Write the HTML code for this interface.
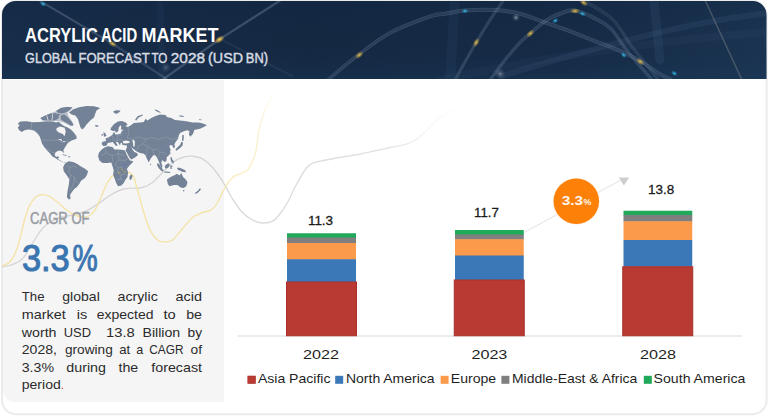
<!DOCTYPE html>
<html><head><meta charset="utf-8">
<style>
html,body{margin:0;padding:0;background:#fff;}
body{width:768px;height:416px;overflow:hidden;font-family:"Liberation Sans",sans-serif;}
svg{display:block;position:absolute;left:0;top:0;}
text{font-family:"Liberation Sans",sans-serif;}
</style></head><body>
<svg width="768" height="416" viewBox="0 0 768 416">
<defs>
<linearGradient id="hdr" x1="0" y1="0" x2="1" y2="0">
<stop offset="0" stop-color="#172d49"/><stop offset="0.4" stop-color="#152842"/><stop offset="0.75" stop-color="#162b46"/><stop offset="1" stop-color="#1b3451"/>
</linearGradient>
<linearGradient id="hdrv" x1="0" y1="0" x2="0" y2="1"><stop offset="0" stop-color="#0d2340" stop-opacity="0.25"/><stop offset="0.5" stop-color="#0d2340" stop-opacity="0"/><stop offset="1" stop-color="#1d4468" stop-opacity="0.22"/></linearGradient>
<radialGradient id="glg"><stop offset="0" stop-color="#ffe27a"/><stop offset="0.35" stop-color="#e8b93c" stop-opacity="0.7"/><stop offset="1" stop-color="#e8b93c" stop-opacity="0"/></radialGradient>
<radialGradient id="glc"><stop offset="0" stop-color="#7fe6ff"/><stop offset="0.35" stop-color="#25b5e8" stop-opacity="0.7"/><stop offset="1" stop-color="#25b5e8" stop-opacity="0"/></radialGradient>
<radialGradient id="glw"><stop offset="0" stop-color="#ffffff" stop-opacity="0.9"/><stop offset="0.4" stop-color="#c9d6e6" stop-opacity="0.4"/><stop offset="1" stop-color="#c9d6e6" stop-opacity="0"/></radialGradient>
<clipPath id="cardclip"><rect x="2" y="1" width="764.5" height="413" rx="14" ry="14"/></clipPath>
<clipPath id="hdrclip"><path d="M2 79V15A14 14 0 0 1 16 1H752.5A14 14 0 0 1 766.5 15V79Z"/></clipPath>
</defs>
<!-- card -->
<rect x="2" y="1" width="764.6" height="413.2" rx="14" ry="14" fill="#fff" stroke="#ebebeb" stroke-width="2"/>
<!-- left panel -->
<path d="M3 80H224V402H15A12 12 0 0 1 3 390Z" fill="#f5f5f5"/>
<!-- header -->
<g clip-path="url(#hdrclip)" id="header">
<rect x="0" y="0" width="768" height="79" fill="url(#hdr)"/>
<rect x="0" y="0" width="768" height="79" fill="url(#hdrv)"/>
<g fill="none" stroke-linecap="round">
<path d="M502 76 C560 58 680 22 768 13" stroke="#5f7fa3" stroke-opacity="0.13" stroke-width="6"/>
<path d="M440 80 C520 62 640 42 768 32" stroke="#5f7fa3" stroke-opacity="0.06" stroke-width="8"/>
<path d="M654 0 L660 60" stroke="#4a6a90" stroke-opacity="0.16" stroke-width="9"/>
<path d="M455 0 L450 80" stroke="#3b5f88" stroke-opacity="0.12" stroke-width="10"/>
<path d="M160 0 L162 80" stroke="#3b5f88" stroke-opacity="0.10" stroke-width="7"/>
<path d="M327.7 80.0C332.4 76.1 345.7 64.5 356.0 56.7C366.3 48.9 377.1 40.0 389.3 33.3C401.5 26.6 420.0 20.0 429.3 16.7C438.6 13.4 439.1 14.8 445.0 13.8C450.9 12.7 456.7 11.1 465.0 10.5C473.3 9.9 485.8 9.5 495.0 10.0C504.2 10.5 511.7 11.7 520.0 13.8C528.3 15.8 536.7 19.6 545.0 22.5C553.3 25.4 561.7 28.1 570.0 31.2C578.3 34.4 588.0 38.5 595.0 41.2C602.0 44.0 604.7 44.4 612.0 47.5C619.3 50.6 630.9 55.7 638.7 60.0C646.5 64.3 653.2 70.0 658.7 73.3C664.2 76.6 669.8 78.9 672.0 80.0" stroke="#9fb3cc" stroke-opacity="0.10" stroke-width="3.6"/>
<path d="M327.7 80.0C332.4 76.1 345.7 64.5 356.0 56.7C366.3 48.9 377.1 40.0 389.3 33.3C401.5 26.6 420.0 20.0 429.3 16.7C438.6 13.4 439.1 14.8 445.0 13.8C450.9 12.7 456.7 11.1 465.0 10.5C473.3 9.9 485.8 9.5 495.0 10.0C504.2 10.5 511.7 11.7 520.0 13.8C528.3 15.8 536.7 19.6 545.0 22.5C553.3 25.4 561.7 28.1 570.0 31.2C578.3 34.4 588.0 38.5 595.0 41.2C602.0 44.0 604.7 44.4 612.0 47.5C619.3 50.6 630.9 55.7 638.7 60.0C646.5 64.3 653.2 70.0 658.7 73.3C664.2 76.6 669.8 78.9 672.0 80.0" stroke="#9fb3cc" stroke-opacity="0.18" stroke-width="0.6"/>
<path d="M327.7 80.0C332.4 76.1 345.7 64.5 356.0 56.7C366.3 48.9 377.1 40.0 389.3 33.3C401.5 26.6 420.0 20.0 429.3 16.7C438.6 13.4 439.1 14.8 445.0 13.8C450.9 12.7 456.7 11.1 465.0 10.5C473.3 9.9 485.8 9.5 495.0 10.0C504.2 10.5 511.7 11.7 520.0 13.8C528.3 15.8 536.7 19.6 545.0 22.5C553.3 25.4 561.7 28.1 570.0 31.2C578.3 34.4 588.0 38.5 595.0 41.2C602.0 44.0 604.7 44.4 612.0 47.5C619.3 50.6 630.9 55.7 638.7 60.0C646.5 64.3 653.2 70.0 658.7 73.3C664.2 76.6 669.8 78.9 672.0 80.0" stroke="#9fb3cc" stroke-opacity="0.30" stroke-width="0.6" transform="translate(0,-1.6)"/>
<path d="M327.7 80.0C332.4 76.1 345.7 64.5 356.0 56.7C366.3 48.9 377.1 40.0 389.3 33.3C401.5 26.6 420.0 20.0 429.3 16.7C438.6 13.4 439.1 14.8 445.0 13.8C450.9 12.7 456.7 11.1 465.0 10.5C473.3 9.9 485.8 9.5 495.0 10.0C504.2 10.5 511.7 11.7 520.0 13.8C528.3 15.8 536.7 19.6 545.0 22.5C553.3 25.4 561.7 28.1 570.0 31.2C578.3 34.4 588.0 38.5 595.0 41.2C602.0 44.0 604.7 44.4 612.0 47.5C619.3 50.6 630.9 55.7 638.7 60.0C646.5 64.3 653.2 70.0 658.7 73.3C664.2 76.6 669.8 78.9 672.0 80.0" stroke="#9fb3cc" stroke-opacity="0.30" stroke-width="0.6" transform="translate(0,1.6)"/>
<path d="M490.0 80.0C492.5 76.7 500.0 66.2 505.0 60.0C510.0 53.8 515.8 46.9 520.0 42.5C524.2 38.1 525.8 37.3 530.0 33.8C534.2 30.2 540.0 24.6 545.0 21.2C550.0 17.9 555.0 15.5 560.0 13.8C565.0 12.0 568.7 9.5 575.0 10.5C581.3 11.5 591.8 16.8 598.0 20.0C604.2 23.2 607.5 25.3 612.0 30.0C616.5 34.7 620.3 42.0 625.0 48.0C629.7 54.0 635.5 60.7 640.0 66.0C644.5 71.3 650.0 77.7 652.0 80.0" stroke="#9fb3cc" stroke-opacity="0.10" stroke-width="3.6"/>
<path d="M490.0 80.0C492.5 76.7 500.0 66.2 505.0 60.0C510.0 53.8 515.8 46.9 520.0 42.5C524.2 38.1 525.8 37.3 530.0 33.8C534.2 30.2 540.0 24.6 545.0 21.2C550.0 17.9 555.0 15.5 560.0 13.8C565.0 12.0 568.7 9.5 575.0 10.5C581.3 11.5 591.8 16.8 598.0 20.0C604.2 23.2 607.5 25.3 612.0 30.0C616.5 34.7 620.3 42.0 625.0 48.0C629.7 54.0 635.5 60.7 640.0 66.0C644.5 71.3 650.0 77.7 652.0 80.0" stroke="#9fb3cc" stroke-opacity="0.18" stroke-width="0.6"/>
<path d="M490.0 80.0C492.5 76.7 500.0 66.2 505.0 60.0C510.0 53.8 515.8 46.9 520.0 42.5C524.2 38.1 525.8 37.3 530.0 33.8C534.2 30.2 540.0 24.6 545.0 21.2C550.0 17.9 555.0 15.5 560.0 13.8C565.0 12.0 568.7 9.5 575.0 10.5C581.3 11.5 591.8 16.8 598.0 20.0C604.2 23.2 607.5 25.3 612.0 30.0C616.5 34.7 620.3 42.0 625.0 48.0C629.7 54.0 635.5 60.7 640.0 66.0C644.5 71.3 650.0 77.7 652.0 80.0" stroke="#9fb3cc" stroke-opacity="0.30" stroke-width="0.6" transform="translate(0,-1.6)"/>
<path d="M490.0 80.0C492.5 76.7 500.0 66.2 505.0 60.0C510.0 53.8 515.8 46.9 520.0 42.5C524.2 38.1 525.8 37.3 530.0 33.8C534.2 30.2 540.0 24.6 545.0 21.2C550.0 17.9 555.0 15.5 560.0 13.8C565.0 12.0 568.7 9.5 575.0 10.5C581.3 11.5 591.8 16.8 598.0 20.0C604.2 23.2 607.5 25.3 612.0 30.0C616.5 34.7 620.3 42.0 625.0 48.0C629.7 54.0 635.5 60.7 640.0 66.0C644.5 71.3 650.0 77.7 652.0 80.0" stroke="#9fb3cc" stroke-opacity="0.30" stroke-width="0.6" transform="translate(0,1.6)"/>
<path d="M455.0 80.0C457.1 76.2 464.0 63.8 467.5 57.5C471.0 51.2 472.5 48.8 476.2 42.5C480.0 36.2 485.4 27.1 490.0 20.0C494.6 12.9 501.5 3.3 503.8 0.0" stroke="#9fb3cc" stroke-opacity="0.09" stroke-width="3.6"/>
<path d="M455.0 80.0C457.1 76.2 464.0 63.8 467.5 57.5C471.0 51.2 472.5 48.8 476.2 42.5C480.0 36.2 485.4 27.1 490.0 20.0C494.6 12.9 501.5 3.3 503.8 0.0" stroke="#9fb3cc" stroke-opacity="0.16" stroke-width="0.6"/>
<path d="M455.0 80.0C457.1 76.2 464.0 63.8 467.5 57.5C471.0 51.2 472.5 48.8 476.2 42.5C480.0 36.2 485.4 27.1 490.0 20.0C494.6 12.9 501.5 3.3 503.8 0.0" stroke="#9fb3cc" stroke-opacity="0.26" stroke-width="0.6" transform="translate(0,-1.6)"/>
<path d="M455.0 80.0C457.1 76.2 464.0 63.8 467.5 57.5C471.0 51.2 472.5 48.8 476.2 42.5C480.0 36.2 485.4 27.1 490.0 20.0C494.6 12.9 501.5 3.3 503.8 0.0" stroke="#9fb3cc" stroke-opacity="0.26" stroke-width="0.6" transform="translate(0,1.6)"/>
<path d="M582.5 0.0C587.4 3.1 603.8 11.0 612.0 18.8C620.2 26.5 624.2 36.5 632.0 46.7C639.8 56.9 654.2 74.5 658.7 80.0" stroke="#9fb3cc" stroke-opacity="0.07" stroke-width="3.6"/>
<path d="M582.5 0.0C587.4 3.1 603.8 11.0 612.0 18.8C620.2 26.5 624.2 36.5 632.0 46.7C639.8 56.9 654.2 74.5 658.7 80.0" stroke="#9fb3cc" stroke-opacity="0.12" stroke-width="0.6"/>
<path d="M582.5 0.0C587.4 3.1 603.8 11.0 612.0 18.8C620.2 26.5 624.2 36.5 632.0 46.7C639.8 56.9 654.2 74.5 658.7 80.0" stroke="#9fb3cc" stroke-opacity="0.20" stroke-width="0.6" transform="translate(0,-1.6)"/>
<path d="M582.5 0.0C587.4 3.1 603.8 11.0 612.0 18.8C620.2 26.5 624.2 36.5 632.0 46.7C639.8 56.9 654.2 74.5 658.7 80.0" stroke="#9fb3cc" stroke-opacity="0.20" stroke-width="0.6" transform="translate(0,1.6)"/>
<path d="M705 0 L742 80" stroke="#b9b3a6" stroke-opacity="0.28" stroke-width="1.5"/>
<path d="M281 0 L220 39 L162 80" stroke="#9db0c9" stroke-opacity="0.22" stroke-width="2.6"/>
<path d="M281 0 L220 39 L162 80" stroke="#c5d2e3" stroke-opacity="0.16" stroke-width="0.7"/>
<path d="M40 1 L113 44 L168 80" stroke="#9db0c9" stroke-opacity="0.2" stroke-width="2.4"/>
<path d="M40 1 L113 44" stroke="#c5d2e3" stroke-opacity="0.16" stroke-width="0.7"/>
<path d="M222 40 L292 76" stroke="#9db0c9" stroke-opacity="0.08" stroke-width="2"/>
</g>
<ellipse cx="112.5" cy="43.75" rx="5" ry="2.8" fill="url(#glg)" opacity="0.85" transform="rotate(30 112.5 43.75)"/>
<ellipse cx="219.5" cy="39.5" rx="5" ry="2.8" fill="url(#glg)" opacity="0.85" transform="rotate(-33 219.5 39.5)"/>
<ellipse cx="359.3" cy="55" rx="5" ry="2.8" fill="url(#glg)" opacity="0.85" transform="rotate(-38 359.3 55)"/>
<ellipse cx="476.25" cy="42.5" rx="5" ry="2.8" fill="url(#glg)" opacity="0.85" transform="rotate(-60 476.25 42.5)"/>
<ellipse cx="530.3" cy="33.5" rx="5" ry="2.8" fill="url(#glg)" opacity="0.85" transform="rotate(-42 530.3 33.5)"/>
<ellipse cx="575" cy="11" rx="5" ry="2.8" fill="url(#glg)" opacity="0.85" transform="rotate(0 575 11)"/>
<ellipse cx="640.3" cy="61.7" rx="5" ry="2.8" fill="url(#glg)" opacity="0.85" transform="rotate(35 640.3 61.7)"/>
<ellipse cx="583.7" cy="2.7" rx="5" ry="2.8" fill="url(#glg)" opacity="0.85" transform="rotate(35 583.7 2.7)"/>
<ellipse cx="43" cy="4" rx="3.6" ry="2.4" fill="url(#glc)" opacity="0.85" transform="rotate(30 43 4)"/>
<ellipse cx="465" cy="11" rx="3.6" ry="2.4" fill="url(#glc)" opacity="0.85" transform="rotate(-5 465 11)"/>
<ellipse cx="555.3" cy="20.7" rx="3.6" ry="2.4" fill="url(#glc)" opacity="0.85" transform="rotate(-30 555.3 20.7)"/>
<ellipse cx="674.3" cy="73.3" rx="3.6" ry="2.4" fill="url(#glc)" opacity="0.85" transform="rotate(30 674.3 73.3)"/>
<ellipse cx="623.7" cy="55" rx="3.6" ry="2.4" fill="url(#glc)" opacity="0.85" transform="rotate(45 623.7 55)"/>
<ellipse cx="582.5" cy="13.75" rx="3.6" ry="2.4" fill="url(#glc)" opacity="0.85" transform="rotate(20 582.5 13.75)"/>
<ellipse cx="166" cy="67.5" rx="5" ry="5" fill="url(#glw)" opacity="0.3" transform="rotate(0 166 67.5)"/>
<ellipse cx="219.5" cy="39.5" rx="6" ry="3.2" fill="url(#glg)" opacity="0.6" transform="rotate(-33 219.5 39.5)"/>
<ellipse cx="516" cy="17.5" rx="4" ry="4" fill="url(#glw)" opacity="0.6" transform="rotate(0 516 17.5)"/>
<ellipse cx="500" cy="73.75" rx="5.5" ry="5.5" fill="url(#glw)" opacity="0.45" transform="rotate(0 500 73.75)"/>
</g>
<g font-size="20.2" font-weight="bold" fill="#fff"><text x="25.1" y="42.2" textLength="72.8" lengthAdjust="spacingAndGlyphs">ACRYLIC</text><text x="100.9" y="42.2" textLength="36.3" lengthAdjust="spacingAndGlyphs">ACID</text><text x="141.6" y="42.2" textLength="76.9" lengthAdjust="spacingAndGlyphs">MARKET</text></g>
<g font-size="14.5" fill="#d6dbe2" stroke="#d6dbe2" stroke-width="0.45"><text x="25.1" y="63.1" textLength="50.6" lengthAdjust="spacingAndGlyphs">GLOBAL</text><text x="78.4" y="63.1" textLength="71.3" lengthAdjust="spacingAndGlyphs">FORECAST</text><text x="151.4" y="63.1" textLength="16.0" lengthAdjust="spacingAndGlyphs">TO</text><text x="170.8" y="63.1" textLength="34.2" lengthAdjust="spacingAndGlyphs">2028</text><text x="208.1" y="63.1" textLength="34.9" lengthAdjust="spacingAndGlyphs">(USD</text><text x="245.8" y="63.1" textLength="22.2" lengthAdjust="spacingAndGlyphs">BN)</text></g>
<g id="curves" fill="none" stroke-width="1.4" stroke-linecap="round">
<defs><linearGradient id="gy" gradientUnits="userSpaceOnUse" x1="0" y1="0" x2="768" y2="0"><stop offset="0" stop-color="#f5e3a8"/><stop offset="0.29" stop-color="#f5e3a8"/><stop offset="0.3" stop-color="#f9ecc0"/><stop offset="0.335" stop-color="#fbf1d0"/><stop offset="0.358" stop-color="#fbf1d0" stop-opacity="0"/></linearGradient>
<linearGradient id="gg" gradientUnits="userSpaceOnUse" x1="0" y1="0" x2="768" y2="0"><stop offset="0" stop-color="#d6d6d6"/><stop offset="0.29" stop-color="#d6d6d6"/><stop offset="0.3" stop-color="#d9d9d9"/><stop offset="0.5" stop-color="#e2e2e2"/><stop offset="0.605" stop-color="#eee" stop-opacity="0"/></linearGradient></defs>
<path d="M2.5 266.6C4.2 266.3 9.0 266.0 12.4 264.6C15.8 263.2 19.6 261.5 22.7 258.4C25.8 255.3 28.6 249.8 31.0 246.0C33.4 242.2 35.1 238.7 37.2 235.6C39.3 232.5 41.0 229.8 43.4 227.4C45.8 225.0 48.6 222.9 51.7 221.2C54.8 219.5 58.5 218.0 62.0 217.0C65.5 216.0 69.0 215.8 72.4 215.0C75.9 214.2 79.6 213.6 82.7 212.5C85.8 211.4 88.1 210.0 91.0 208.3C93.9 206.6 96.4 204.9 100.0 202.5C103.6 200.1 108.3 196.0 112.5 193.8C116.7 191.5 120.0 189.8 125.0 188.8C130.0 187.7 137.9 188.5 142.5 187.5C147.1 186.5 149.2 185.0 152.5 182.5C155.8 180.0 159.2 175.8 162.5 172.5C165.8 169.2 169.2 165.0 172.5 162.5C175.8 160.0 179.2 158.5 182.5 157.5C185.8 156.5 189.2 156.0 192.5 156.2C195.8 156.5 199.2 156.9 202.5 158.8C205.8 160.6 209.2 163.8 212.5 167.5C215.8 171.2 219.2 176.0 222.5 181.2C225.8 186.5 229.2 193.5 232.5 198.8C235.8 204.0 239.2 209.0 242.5 212.5C245.8 216.0 249.2 218.2 252.5 220.0C255.8 221.8 259.2 222.8 262.5 223.0C265.8 223.2 269.6 222.8 272.5 221.2C275.4 219.7 277.5 216.9 280.0 213.8C282.5 210.6 284.7 207.5 287.5 202.5C290.3 197.5 293.1 190.2 296.7 184.0C300.3 177.8 304.1 169.4 309.0 165.4C313.9 161.4 317.5 161.9 325.8 160.0C334.1 158.1 348.6 156.2 359.0 154.2C369.4 152.2 379.5 149.9 388.0 148.0C396.5 146.1 404.0 145.3 410.0 142.8C416.0 140.3 419.6 136.8 424.0 133.0C428.4 129.2 432.5 123.3 436.5 120.0C440.5 116.7 444.4 114.8 448.0 113.0C451.6 111.2 454.3 111.0 458.0 109.5C461.7 108.0 468.0 104.9 470.0 104.0" stroke="url(#gg)"/>
<path d="M2.5 265.8C3.8 265.1 8.0 264.1 10.3 261.5C12.6 258.9 14.8 254.3 16.5 250.0C18.2 245.7 19.3 240.8 20.7 235.6C22.1 230.4 23.4 223.8 24.8 219.0C26.2 214.2 27.3 210.3 29.0 206.7C30.7 203.1 33.1 199.4 35.2 197.4C37.3 195.4 39.0 194.9 41.4 194.7C43.8 194.5 46.9 195.0 49.6 196.3C52.4 197.6 55.1 200.2 57.9 202.5C60.7 204.8 63.5 207.7 66.2 209.8C69.0 211.9 71.7 213.8 74.4 215.0C77.2 216.2 80.3 217.0 82.7 217.2C85.1 217.4 86.8 217.2 88.9 216.0C91.0 214.8 93.2 212.7 95.1 209.8C97.0 206.9 98.4 203.1 100.5 198.5C102.6 193.9 105.1 186.6 107.5 182.5C109.9 178.4 112.3 175.6 115.0 173.8C117.7 171.9 120.8 171.0 123.8 171.2C126.7 171.5 130.2 171.9 132.5 175.0C134.8 178.1 135.6 183.8 137.5 190.0C139.4 196.2 141.7 205.8 143.8 212.5C145.8 219.2 147.7 225.4 150.0 230.0C152.3 234.6 155.0 238.0 157.5 240.0C160.0 242.0 162.5 242.0 165.0 242.0C167.5 242.0 169.6 242.2 172.5 240.0C175.4 237.8 179.2 232.5 182.5 228.8C185.8 225.0 189.2 220.2 192.5 217.5C195.8 214.8 199.4 213.8 202.5 212.5C205.6 211.2 208.8 211.7 211.2 210.0C213.8 208.3 215.2 206.2 217.5 202.5C219.8 198.8 222.5 191.7 225.0 187.5C227.5 183.3 230.0 179.8 232.5 177.5C235.0 175.2 237.5 175.0 240.0 173.8C242.5 172.5 245.4 172.1 247.5 170.0C249.6 167.9 251.0 164.6 252.5 161.2C254.0 157.9 255.2 155.2 256.2 150.0C257.3 144.8 257.7 136.2 259.0 130.0C260.3 123.8 262.2 117.9 264.0 113.0C265.8 108.1 268.0 104.2 269.6 100.8C271.2 97.4 273.1 93.9 273.8 92.5" stroke="url(#gy)"/>
</g>
<!--MAP--><g id="map" fill="#738296">
<path fill="#738296" fill-opacity="0.45" d="M40.5 118L45.5 115.2L50.3 113.2L55.5 111.5L57 110.2L60.9 107.8L66.7 106.8L72.5 107.3L70 110.5L67.5 112.5L68.5 116L71.5 120.5L73.6 124.6L72.5 126L69.5 125.5L66 124L62.5 122.5L59.5 121.3L56 121L48 120.9L42.5 120.6Z"/>
<path d="M17.75 123.75L20.25 121.50L26.50 121.25L32.75 122.30L39.60 121.90L44.00 121.50L48.40 121.30L53.20 121.60L56.10 122.40L58.50 121.80L60.50 123.30L62.50 125.00L65.00 126.60L67.20 127.20L70.90 129.50L74.00 132.80L76.30 136.00L76.80 138.60L74.50 139.40L71.50 140.60L67.75 143.10L65.25 146.90L63.40 150.00L64.00 153.10L62.10 151.25L59.00 150.60L55.90 151.90L54.60 154.40L55.90 156.90L58.40 156.25L59.00 157.50L57.75 158.75L60.25 160.60L62.75 161.90L64.00 163.10L65.90 163.10L62.10 161.90L58.40 160.00L55.25 158.10L52.10 156.25L50.25 153.75L47.10 150.60L44.60 147.50L42.10 143.75L40.90 140.00L39.60 136.25L37.10 133.10L34.00 130.60L29.00 129.40L25.25 130.00L21.50 131.90L19.00 130.00L17.75 127.50L19.60 125.60Z M56.10 110.90L60.90 108.00L66.70 106.90L72.50 107.30L69.60 110.20L65.70 112.60L61.90 113.60L58.00 112.70Z M61.50 115.00L64.50 114.60L67.00 116.50L69.00 118.75L71.50 121.50L73.40 124.50L72.50 125.80L70.50 125.60L67.70 123.60L63.80 121.40L60.90 119.50L60.50 117.00Z M40.25 117.90L45.50 115.50L50.30 113.50L55.20 113.10L59.00 115.50L58.60 118.30L56.00 119.90L53.20 120.40L48.40 120.50L42.70 120.20Z M56.00 113.60L60.50 114.20L60.30 115.20L56.50 114.80Z M69.00 112.50L72.75 109.40L79.00 107.25L86.50 106.00L94.00 106.25L100.25 108.10L96.50 110.60L95.25 113.75L94.00 117.50L90.25 120.60L86.50 124.40L84.00 128.10L82.10 129.40L80.25 126.90L79.00 122.50L77.75 118.75L75.25 115.60L71.50 114.40Z M95.00 125.00L98.75 125.40L97.50 127.00L95.60 126.60Z M65.60 163.10L68.75 161.25L73.10 161.90L76.90 163.75L80.60 166.25L85.00 168.75L88.10 171.25L86.90 175.00L85.00 178.10L81.25 180.60L79.40 183.75L76.90 186.90L74.40 188.75L71.90 191.90L70.00 195.00L70.60 198.75L68.75 199.40L66.90 196.90L67.50 191.25L68.75 185.00L69.40 179.40L66.90 175.60L63.75 171.25L63.10 167.50L64.40 164.40Z M98.10 156.25L98.75 153.10L101.25 150.00L104.40 147.50L108.10 146.25L112.50 146.90L114.40 149.40L118.75 149.40L123.10 150.00L125.00 150.60L126.25 153.75L128.10 157.50L130.00 160.60L133.10 161.25L133.10 161.90L130.00 165.00L126.90 168.75L128.10 172.50L127.50 176.90L125.60 179.40L123.75 183.10L121.25 185.60L118.10 186.25L116.25 183.10L114.40 178.10L113.10 174.40L113.75 170.60L112.50 166.25L111.25 162.50L107.50 163.10L102.50 163.10L99.40 160.60Z M130.00 175.60L131.90 174.40L132.50 176.25L131.25 179.40L129.75 180.00L129.40 177.50Z M125.60 150.60L127.50 153.75L129.40 157.50L131.25 159.40L135.00 157.50L138.10 155.00L136.90 153.10L134.40 151.90L132.50 149.40L131.00 147.00L127.00 147.00Z M103.10 146.10L101.60 143.70L102.60 141.80L106.20 140.90L105.50 138.40L108.30 137.50L110.75 136.00L112.50 134.80L113.40 132.60L114.60 132.30L115.00 134.30L117.50 134.60L120.50 133.80L121.50 131.50L123.50 129.80L120.80 129.40L121.30 126.50L120.30 125.30L118.80 127.50L118.30 131.00L116.30 132.70L114.80 130.80L113.00 131.00L110.30 129.80L111.20 127.40L114.10 124.00L118.00 121.60L121.80 121.10L125.70 122.60L127.60 124.50L125.50 126.30L128.00 127.00L131.25 125.00L133.75 123.10L140.00 122.50L143.75 121.90L145.60 118.75L147.50 120.60L151.25 118.10L155.00 116.25L160.00 114.40L165.60 115.00L166.90 116.90L171.25 118.10L175.00 120.00L180.00 120.60L186.25 121.25L192.50 122.50L198.75 122.50L203.75 123.75L206.90 125.20L203.75 126.90L200.00 128.75L196.25 129.40L194.20 130.00L193.20 133.60L190.40 136.80L188.90 134.60L189.50 131.60L187.50 130.30L183.75 131.25L180.00 133.10L178.75 135.60L178.10 138.75L175.60 141.90L174.40 144.40L175.00 146.25L174.40 148.10L173.10 147.75L172.50 145.60L170.00 145.00L169.40 146.90L170.60 149.40L170.00 152.50L168.75 155.60L166.25 157.50L165.00 155.80L166.90 158.10L166.25 161.25L164.40 161.90L162.50 160.00L161.25 162.50L162.50 166.25L161.90 168.10L160.00 165.00L158.75 161.25L156.90 157.50L155.00 155.00L153.10 155.60L150.60 158.75L148.75 162.50L146.90 158.75L145.60 155.60L143.75 153.75L140.00 153.10L136.25 151.25L133.50 149.00L131.00 147.00L127.00 147.00L126.90 145.60L122.50 145.00L121.90 142.80L120.70 143.00L120.00 145.60L118.50 143.00L117.50 141.80L115.80 142.20L117.70 145.20L116.00 145.90L112.70 141.90L109.30 142.80L107.90 142.80L106.40 145.70Z M103.50 132.00L105.50 133.40L106.60 136.00L104.00 136.70L103.60 134.60Z M101.50 134.20L102.90 133.90L103.00 135.50L101.60 135.70Z M113.10 111.50L116.00 110.30L120.60 110.60L119.50 112.00L117.00 113.80L114.50 113.20Z M135.00 120.00L137.50 116.25L142.50 114.40L143.00 115.25L138.75 117.50L136.25 120.60Z M154.40 109.40L157.00 110.00L161.25 112.50L159.00 112.60L155.50 110.80Z M179.40 115.30L183.75 116.00L183.50 116.90L179.60 116.40Z M199.00 119.30L201.50 119.50L201.30 120.20L199.00 120.00Z M182.40 134.80L183.90 135.30L183.50 140.80L181.90 140.80Z M181.20 142.00L183.00 142.30L182.60 145.40L180.40 147.80L177.80 149.80L176.20 150.80L175.40 149.60L178.20 146.60L180.20 144.80Z M169.60 152.60L170.50 152.40L170.30 154.40L169.60 154.30Z M170.40 157.20L172.00 157.50L172.40 159.80L173.80 161.30L173.80 163.50L172.30 162.90L171.00 161.00L170.50 159.00Z M165.20 165.60L166.80 164.00L168.60 163.30L169.90 165.00L168.60 167.20L167.00 168.60L165.30 168.20L164.70 166.80Z M157.10 163.50L158.60 163.60L161.20 167.30L163.60 170.40L163.00 171.60L161.50 171.00L159.00 168.40L157.10 165.20Z M164.20 171.40L167.00 171.40L170.20 172.00L170.20 173.00L167.00 172.80L164.20 172.40Z M170.10 165.60L172.20 165.40L172.80 166.40L171.60 166.80L171.80 169.00L170.50 169.00L170.40 167.00Z M177.30 167.80L179.50 167.70L181.60 168.40L185.20 170.30L186.00 172.20L183.80 171.90L181.90 171.80L180.60 170.80L178.60 170.30L177.20 169.00Z M166.90 179.40L170.60 176.90L175.00 175.00L176.90 173.75L179.40 175.60L181.25 173.10L183.10 176.90L186.25 180.00L187.50 182.50L186.25 186.25L183.75 188.10L180.60 187.50L177.50 185.00L173.75 185.00L169.40 186.25L167.75 183.75Z M183.00 190.00L184.60 190.00L184.00 191.50L183.20 191.30Z M200.00 188.10L200.90 189.40L198.10 192.50L195.60 194.00L195.00 193.10L198.10 190.60Z M150.30 163.60L151.20 164.00L151.00 165.30L150.20 165.00Z M62.50 154.20L66.00 155.00L67.50 156.00L65.00 155.60L62.50 155.00Z M68.30 156.30L70.30 156.50L70.00 157.40L68.30 157.20Z"/>
<path fill="#f5f5f5" d="M122.80 141.20L126.00 140.60L129.50 141.20L129.30 143.00L126.00 143.60L123.30 143.20Z M132.20 140.20L134.00 139.80L134.90 142.00L134.60 146.40L133.20 146.40L133.00 143.00Z M56.50 128.30L60.00 126.60L64.60 127.80L65.70 131.20L64.90 135.80L63.80 135.60L62.80 134.10L58.80 132.40L56.50 130.60Z M60.80 122.60L63.20 122.20L66.50 124.30L68.80 126.30L66.50 126.40L63.50 124.80Z M58.60 139.20L61.00 139.00L62.20 140.60L61.00 141.30L60.60 140.00L58.80 140.00Z M62.60 141.20L65.00 140.90L65.20 141.70L62.80 142.10Z M46.30 115.60L47.00 115.40L48.60 120.30L47.90 120.50Z M52.50 113.40L53.20 113.30L52.20 120.40L51.50 120.40Z"/>
<g fill="none" stroke="#c3cad4" stroke-width="0.45" stroke-opacity="0.55" stroke-linejoin="round"><path d="M31.5 121.8V130.5L34 131.5"/><path d="M41 140.2H58L60 141.5L63 142.5L66 141.8L69 140.8"/><path d="M46.5 149.5L50 150.2L52.5 152.5L55.5 152.2"/><path d="M67 165L70 167.5L73.5 166L77 167.5M70 167.5L68.5 172L71 175L74.5 177L76 181L79 183M71 175L69.5 179.5M74.5 177L73 185L70 191"/><path d="M101 155.5L106 153L112 155.5L118 153.5L124 155.5M106 153L105.5 148M112 155.5L113 162M118 153.5L118.5 149.5M118 153.5L119 160L115 164L118 168L123 167M119 160L125 160.5L128 158M118 168L117.5 173L121 175L126 173.5M121 175L120.5 179L117 180M120.5 179L124.5 181"/><path d="M128 127L129 133L127 137.5L131 139.5M131 139.5L138 137L146 139L152 137.5L158 139.5L166 137L172 139.5L178 138M146 139L143 144L138 146.5L136.5 151M143 144L148 146.5L153 150L157 149L160 152L164 152.5L166 155M148 146.5L146 152L146.5 156M153 150L154 155M160 152L158 157"/><path d="M108 137L110 141M112 135.5L113.5 140L117 140.5L120 139L123 140M117 140.5L117.5 136L121 135.5L122 131.5"/></g>
<g opacity="0.55"><ellipse cx="124.6" cy="164.8" rx="1.3" ry="1" fill="#5b74c4"/><ellipse cx="123.6" cy="167.6" rx="0.9" ry="0.8" fill="#5b74c4"/><ellipse cx="122" cy="169.4" rx="1.2" ry="0.8" fill="#c9b24f"/><ellipse cx="119.2" cy="172.6" rx="1.4" ry="0.9" fill="#c9b24f"/><ellipse cx="124.6" cy="171.6" rx="1.2" ry="0.9" fill="#c9b24f"/><path d="M118.5 179.5L121.5 178" stroke="#8fb0e6" stroke-width="0.8" fill="none"/></g>
</g><!--/MAP-->
<!-- left text -->
<text x="30" y="223.5" font-size="16.8" fill="#999da5" stroke="#999da5" stroke-width="0.55" textLength="59.6" lengthAdjust="spacingAndGlyphs">CAGR OF</text>
<g font-size="37.4" fill="#3b76b1" stroke="#3b76b1" stroke-width="1.1" stroke-linejoin="round"><text x="21.9" y="271" textLength="47.8" lengthAdjust="spacingAndGlyphs">3.3</text><text x="72.4" y="271" textLength="25.2" lengthAdjust="spacingAndGlyphs">%</text></g>
<g id="para" font-size="13.6" fill="#2b2b2b">
<text x="21.75" y="300.9" textLength="22.75" lengthAdjust="spacingAndGlyphs">The</text>
<text x="62.25" y="300.9" textLength="37.50" lengthAdjust="spacingAndGlyphs">global</text>
<text x="117.50" y="300.9" textLength="40.25" lengthAdjust="spacingAndGlyphs">acrylic</text>
<text x="175.50" y="300.9" textLength="26.50" lengthAdjust="spacingAndGlyphs">acid</text>
<text x="21.75" y="318.6" textLength="44.00" lengthAdjust="spacingAndGlyphs">market</text>
<text x="76.75" y="318.6" textLength="10.50" lengthAdjust="spacingAndGlyphs">is</text>
<text x="96.75" y="318.6" textLength="56.75" lengthAdjust="spacingAndGlyphs">expected</text>
<text x="163.50" y="318.6" textLength="12.25" lengthAdjust="spacingAndGlyphs">to</text>
<text x="186.25" y="318.6" textLength="15.75" lengthAdjust="spacingAndGlyphs">be</text>
<text x="21.75" y="336.5" textLength="34.75" lengthAdjust="spacingAndGlyphs">worth</text>
<text x="63.75" y="336.5" textLength="27.25" lengthAdjust="spacingAndGlyphs">USD</text>
<text x="106.00" y="336.5" textLength="28.75" lengthAdjust="spacingAndGlyphs">13.8</text>
<text x="142.50" y="336.5" textLength="37.75" lengthAdjust="spacingAndGlyphs">Billion</text>
<text x="187.50" y="336.5" textLength="14.50" lengthAdjust="spacingAndGlyphs">by</text>
<text x="21.75" y="354.3" textLength="35.25" lengthAdjust="spacingAndGlyphs">2028,</text>
<text x="65.00" y="354.3" textLength="47.75" lengthAdjust="spacingAndGlyphs">growing</text>
<text x="119.25" y="354.3" textLength="11.00" lengthAdjust="spacingAndGlyphs">at</text>
<text x="136.25" y="354.3" textLength="7.00" lengthAdjust="spacingAndGlyphs">a</text>
<text x="149.25" y="354.3" textLength="34.25" lengthAdjust="spacingAndGlyphs">CAGR</text>
<text x="190.50" y="354.3" textLength="11.50" lengthAdjust="spacingAndGlyphs">of</text>
<text x="21.75" y="371.8" textLength="32.25" lengthAdjust="spacingAndGlyphs">3.3%</text>
<text x="66.25" y="371.8" textLength="39.75" lengthAdjust="spacingAndGlyphs">during</text>
<text x="118.50" y="371.8" textLength="19.75" lengthAdjust="spacingAndGlyphs">the</text>
<text x="151.25" y="371.8" textLength="50.75" lengthAdjust="spacingAndGlyphs">forecast</text>
<text x="21.75" y="389.3" textLength="39.00" lengthAdjust="spacingAndGlyphs">period</text>
<text x="60.6" y="389.3" fill="#d9534f">.</text>
</g>
<!-- chart -->
<g id="chart">
<line x1="237.5" y1="336" x2="742" y2="336" stroke="#d9d9d9" stroke-width="1"/>
<line x1="524" y1="232.5" x2="621" y2="180" stroke="#e8e8e8" stroke-width="1.1"/>
<path d="M618.7 177.6H629.2L623.9 185.5Z" fill="#cdcdcd"/>
<!-- bar 2022 -->
<rect x="287" y="233.25" width="69" height="4.75" fill="#20a95b"/>
<rect x="287" y="237.5" width="69" height="6" fill="#7f7f7f"/>
<rect x="287" y="243" width="69" height="16.75" fill="#fb9a4b"/>
<rect x="287" y="259.25" width="69" height="22.75" fill="#3b78b8"/>
<rect x="286.5" y="282" width="70" height="53.75" fill="#b93a32" stroke="#a8322b" stroke-width="1"/>
<!-- bar 2023 -->
<rect x="455" y="230" width="68.75" height="5" fill="#20a95b"/>
<rect x="455" y="234.5" width="68.75" height="5.25" fill="#7f7f7f"/>
<rect x="455" y="239.25" width="68.75" height="16.75" fill="#fb9a4b"/>
<rect x="455" y="255.5" width="68.75" height="24.5" fill="#3b78b8"/>
<rect x="454.25" y="280" width="70" height="55.75" fill="#b93a32" stroke="#a8322b" stroke-width="1"/>
<!-- bar 2028 -->
<rect x="623.5" y="210.75" width="68.75" height="4.75" fill="#20a95b"/>
<rect x="623.5" y="215" width="68.75" height="6.75" fill="#7f7f7f"/>
<rect x="623.5" y="221.25" width="68.75" height="19.25" fill="#fb9a4b"/>
<rect x="623.5" y="240" width="68.75" height="26.75" fill="#3b78b8"/>
<rect x="622.75" y="266.75" width="70" height="69" fill="#b93a32" stroke="#a8322b" stroke-width="1"/>
<!-- circle -->
<circle cx="576.3" cy="201.2" r="23.2" fill="#fde6cc"/><circle cx="576.3" cy="201.2" r="22.7" fill="#fd8109"/>
<text x="561.7" y="204.6" font-size="13.2" font-weight="bold" fill="#fff7ee" textLength="21.5" lengthAdjust="spacingAndGlyphs">3.3</text>
<text x="583.4" y="204.6" font-size="8.8" font-weight="bold" fill="#fff7ee">%</text>
<!-- value labels -->
<g font-size="13.6" fill="#1a1a1a" stroke="#1a1a1a" stroke-width="0.3">
<text x="307.9" y="224.9" textLength="25.2" lengthAdjust="spacingAndGlyphs">11.3</text>
<text x="474.1" y="216.9" textLength="24.7" lengthAdjust="spacingAndGlyphs">11.7</text>
<text x="648" y="193.7" textLength="26.2" lengthAdjust="spacingAndGlyphs">13.8</text>
</g>
<!-- axis labels -->
<g font-size="12.6" fill="#1f1f1f">
<text x="303" y="359" textLength="36" lengthAdjust="spacingAndGlyphs">2022</text>
<text x="471.4" y="359" textLength="36" lengthAdjust="spacingAndGlyphs">2023</text>
<text x="640" y="359" textLength="36" lengthAdjust="spacingAndGlyphs">2028</text>
</g>
<!-- legend -->
<g>
<rect x="247.8" y="376" width="7.8" height="7.6" fill="#b93a32" stroke="#a8322b" stroke-width="0.6"/>
<rect x="335.2" y="375.8" width="8" height="8" fill="#3b78b8"/>
<rect x="440.6" y="375.8" width="8" height="8" fill="#fb9a4b"/>
<rect x="501.4" y="375.8" width="8" height="8" fill="#7f7f7f"/>
<rect x="643.8" y="375.8" width="8" height="8" fill="#20a95b"/>
</g>
<g font-size="13" fill="#1f1f1f">
<text x="257.9" y="383.2" textLength="72.6" lengthAdjust="spacingAndGlyphs">Asia Pacific</text>
<text x="346" y="383.2" textLength="88.5" lengthAdjust="spacingAndGlyphs">North America</text>
<text x="450.8" y="383.2" textLength="45.4" lengthAdjust="spacingAndGlyphs">Europe</text>
<text x="512" y="383.2" textLength="125.3" lengthAdjust="spacingAndGlyphs">Middle-East &amp; Africa</text>
<text x="653.6" y="383.2" textLength="91.8" lengthAdjust="spacingAndGlyphs">South America</text>
</g>
</g>

</svg>
</body></html>
